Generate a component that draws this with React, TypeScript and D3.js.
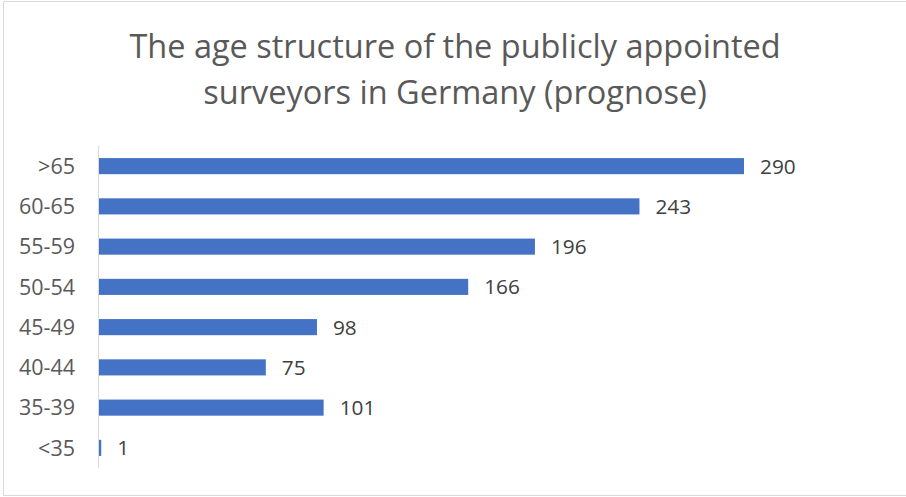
import React from "react";
import * as d3 from "d3";

const categories = [">65", "60-65", "55-59", "50-54", "45-49", "40-44", "35-39", "<35"];
const values = [290, 243, 196, 166, 98, 75, 101, 1];
const titleLines = ["The age structure of the publicly appointed", "surveyors in Germany (prognose)"];

export default function App() {
  const W = 906, H = 497;
  const x0 = 99;
  const x = d3.scaleLinear().domain([0, 290]).range([x0, 744]);
  const y = d3.scaleBand<string>().domain(categories).range([146, 468]).paddingInner(0.6).paddingOuter(0.3);
  const font = "'Open Sans', 'Liberation Sans', sans-serif";
  return (
    <svg width={W} height={H} style={{ position: "absolute", left: 0, top: 0, background: "#fff" }}>
      <rect x={3.5} y={1.5} width={W} height={H - 3} fill="#fff" stroke="#d9d9d9" strokeWidth={1} />
      {titleLines.map((t, i) => (
        <text key={i} x={455} y={58 + i * 46} textAnchor="middle" fontFamily={font} fontSize={32.5} fill="#595959">
          {t}
        </text>
      ))}
      {categories.map((c, i) => {
        const yy = y(c)!;
        const bh = y.bandwidth();
        return (
          <g key={c}>
            <rect x={x0} y={yy} width={x(values[i]) - x0} height={bh} fill="#4472C4" />
            <text x={x(values[i]) + 16} y={yy + bh / 2} dy="0.36em" fontFamily={font} fontSize={20.8} fill="#404040">
              {values[i]}
            </text>
            <text x={75} y={yy + bh / 2} dy="0.36em" textAnchor="end" fontFamily={font} fontSize={21.5} fill="#595959">
              {c}
            </text>
          </g>
        );
      })}
      <line x1={98.5} x2={98.5} y1={146} y2={468} stroke="#d9d9d9" strokeWidth={1} />
    </svg>
  );
}
